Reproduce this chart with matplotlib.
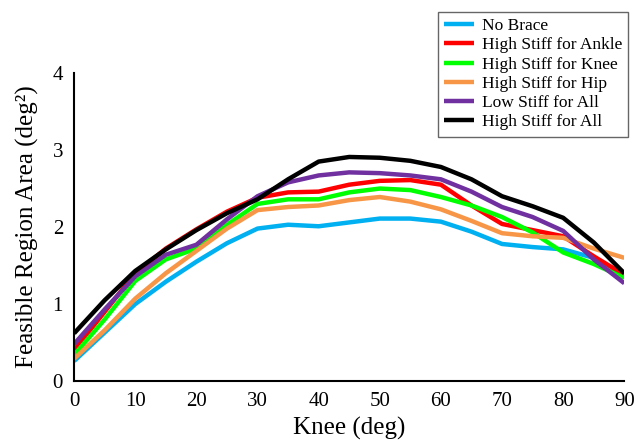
import matplotlib
matplotlib.use("Agg")
import matplotlib.pyplot as plt

plt.rcParams["font.family"] = ["Liberation Serif", "DejaVu Serif"]

knee = [0, 5, 10, 15, 20, 25, 30, 35, 40, 45, 50, 55, 60, 65, 70, 75, 80, 85, 90]

no_brace = [0.26, 0.63, 1.00, 1.29, 1.55, 1.79, 1.98, 2.03, 2.01, 2.06, 2.11, 2.11, 2.07, 1.94, 1.78, 1.74, 1.71, 1.60, 1.38]
ankle = [0.40, 0.90, 1.40, 1.72, 1.97, 2.20, 2.38, 2.45, 2.46, 2.55, 2.60, 2.61, 2.55, 2.28, 2.04, 1.96, 1.88, 1.62, 1.38]
knee_hi = [0.34, 0.80, 1.30, 1.58, 1.72, 2.03, 2.30, 2.36, 2.36, 2.45, 2.50, 2.48, 2.39, 2.28, 2.13, 1.93, 1.67, 1.52, 1.34]
hip = [0.29, 0.66, 1.07, 1.40, 1.69, 1.98, 2.22, 2.26, 2.28, 2.35, 2.39, 2.33, 2.23, 2.08, 1.92, 1.88, 1.86, 1.72, 1.60]
low_all = [0.48, 0.93, 1.36, 1.64, 1.77, 2.10, 2.40, 2.58, 2.67, 2.71, 2.70, 2.67, 2.62, 2.46, 2.26, 2.13, 1.95, 1.58, 1.27]
high_all = [0.62, 1.05, 1.43, 1.71, 1.96, 2.18, 2.36, 2.62, 2.85, 2.91, 2.90, 2.86, 2.78, 2.62, 2.40, 2.27, 2.12, 1.80, 1.40]

series = [
    ("No Brace", no_brace, "#00B0F0"),
    ("High Stiff for Ankle", ankle, "#FF0000"),
    ("High Stiff for Knee", knee_hi, "#00FF00"),
    ("High Stiff for Hip", hip, "#F79646"),
    ("Low Stiff for All", low_all, "#7030A0"),
    ("High Stiff for All", high_all, "#000000"),
]

fig = plt.figure(figsize=(6.39, 4.40), dpi=100)
ax = fig.add_axes([0.116, 0.134, 0.861, 0.700])

for name, vals, col in series:
    ax.plot(knee, vals, color=col, lw=3.2, label=name, solid_joinstyle="round", solid_capstyle="butt")

ax.set_xlim(0, 90)
ax.set_ylim(0, 4)
ax.set_xticks(range(0, 91, 10))
ax.set_yticks(range(0, 5))
ax.tick_params(length=0, labelsize=15, pad=8)
ax.spines["top"].set_visible(False)
ax.spines["right"].set_visible(False)
ax.spines["left"].set_linewidth(1.5)
ax.spines["bottom"].set_linewidth(1.5)

ax.set_xlabel("Knee (deg)", fontsize=18, labelpad=4)
ax.set_ylabel("Feasible Region Area (deg²)", fontsize=18, labelpad=10)

leg = ax.legend(loc="upper right", bbox_to_anchor=(0.983, 0.973), bbox_transform=fig.transFigure,
                fontsize=12.5, frameon=True, fancybox=False, borderaxespad=0,
                handlelength=1.7, handletextpad=0.45, labelspacing=0.18, borderpad=0.35)
leg.get_frame().set_edgecolor("#404040")
leg.get_frame().set_linewidth(1.0)

plt.savefig("out.png", dpi=100)
plt.close()
